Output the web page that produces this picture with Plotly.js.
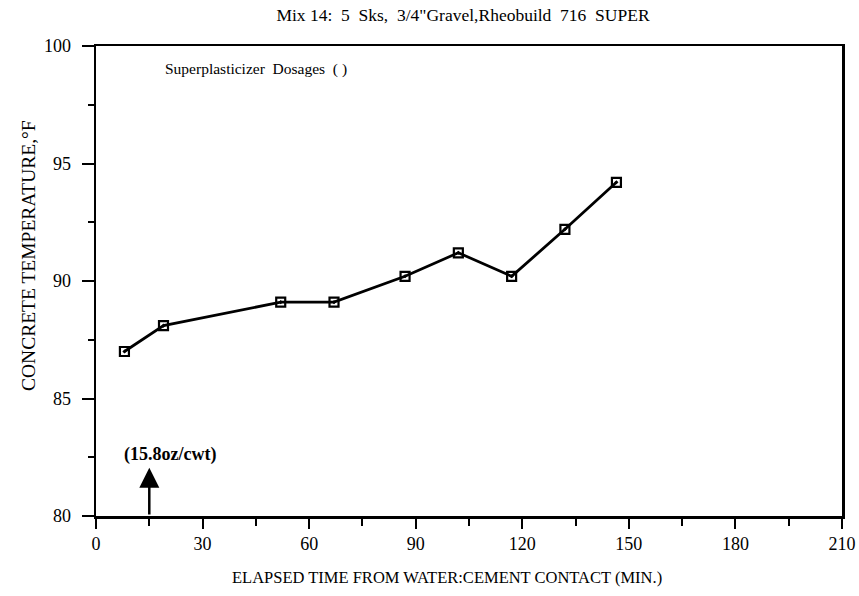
<!DOCTYPE html>
<html>
<head>
<meta charset="utf-8">
<script src="https://cdn.plot.ly/plotly-3.0.1.min.js"></script>
<style>html,body{margin:0;padding:0;background:#fff;}#chart{width:859px;height:596px;}</style>
</head>
<body>
<div id="chart"></div>
<script>
const elapsedMin = [8, 19, 52, 67, 87, 102, 117, 132, 146.5];
const concreteTempF = [87, 88.1, 89.1, 89.1, 90.2, 91.2, 90.2, 92.2, 94.2];
const xTicks = [0, 30, 60, 90, 120, 150, 180, 210];
const yTicks = [80, 85, 90, 95, 100];
const dosageLabel = "(15.8oz/cwt)";
const dosageTime = 15;

const serif = "Liberation Serif, Times New Roman, serif";
const W = 859, H = 596;
const M = {l: 96, r: 17, t: 46, b: 80};
const pw = W - M.l - M.r, ph = H - M.t - M.b;
// helpers converting page pixels to paper fractions (for text placement only)
const px = v => (v - M.l) / pw;
const py = v => 1 - (v - M.t) / ph;

const trace = {
  x: elapsedMin,
  y: concreteTempF,
  type: 'scatter',
  mode: 'lines+markers',
  line: {color: '#000', width: 2.8},
  marker: {symbol: 'square-open-dot', size: 9, color: '#000', line: {width: 2.2, color: '#000'}},
  hoverinfo: 'skip',
  showlegend: false
};

const layout = {
  width: W, height: H,
  margin: M,
  paper_bgcolor: '#fff', plot_bgcolor: '#fff',
  font: {family: serif, color: '#000'},
  title: {
    text: 'Mix 14:  5  Sks,  3/4"Gravel,Rheobuild  716  SUPER',
    font: {family: serif, size: 17.5, color: '#000'},
    x: 463/W, xanchor: 'center', xref: 'container',
    y: 1 - 15/H, yanchor: 'middle', yref: 'container'
  },
  xaxis: {
    range: [0, 210],
    tickvals: xTicks,
    ticktext: xTicks.map(String),
    ticks: 'outside', ticklen: 10, tickwidth: 2, tickcolor: '#000',
    minor: {dtick: 15, tick0: 0, ticks: 'outside', ticklen: 7, tickwidth: 2, tickcolor: '#000'},
    showgrid: false, zeroline: false,
    showline: true, linewidth: 2.5, linecolor: '#000', mirror: true,
    tickfont: {family: serif, size: 18, color: '#000'},
    title: {text: ''}
  },
  yaxis: {
    range: [80, 100],
    tickvals: yTicks,
    ticktext: yTicks.map(String),
    ticks: 'outside', ticklen: 12, tickwidth: 2, tickcolor: '#000',
    ticklabelstandoff: 7,
    minor: {dtick: 2.5, tick0: 80, ticks: 'outside', ticklen: 6, tickwidth: 2, tickcolor: '#000'},
    showgrid: false, zeroline: false,
    showline: true, linewidth: 2.5, linecolor: '#000', mirror: true,
    tickfont: {family: serif, size: 18, color: '#000'},
    title: {text: ''}
  },
  annotations: [
    {
      text: 'CONCRETE TEMPERATURE,°F',
      xref: 'paper', yref: 'paper',
      x: px(28), y: py(256), xanchor: 'center', yanchor: 'middle',
      textangle: -90, showarrow: false,
      font: {family: serif, size: 19.5, color: '#000'}
    },
    {
      text: 'ELAPSED TIME FROM WATER:CEMENT CONTACT (MIN.)',
      xref: 'paper', yref: 'paper',
      x: px(447), y: py(577), xanchor: 'center', yanchor: 'middle',
      showarrow: false,
      font: {family: serif, size: 16.5, color: '#000'}
    },
    {
      text: 'Superplasticizer  Dosages  ( )',
      xref: 'paper', yref: 'paper',
      x: px(163), xanchor: 'left', y: py(69), yanchor: 'middle',
      showarrow: false,
      font: {family: serif, size: 15.5, color: '#000'}
    },
    {
      text: dosageLabel,
      x: dosageTime + 5.8, y: 82.6, xref: 'x', yref: 'y',
      showarrow: false,
      font: {family: serif, size: 18, color: '#000', weight: 'bold'}
    },
    {
      text: '',
      x: dosageTime, y: 82.05, xref: 'x', yref: 'y',
      ax: dosageTime, ay: 80, axref: 'x', ayref: 'y',
      showarrow: true, arrowhead: 2, arrowsize: 1.6, arrowwidth: 2.5, arrowcolor: '#000'
    }
  ]
};

Plotly.newPlot('chart', [trace], layout, {staticPlot: true, displayModeBar: false});
</script>
</body>
</html>
